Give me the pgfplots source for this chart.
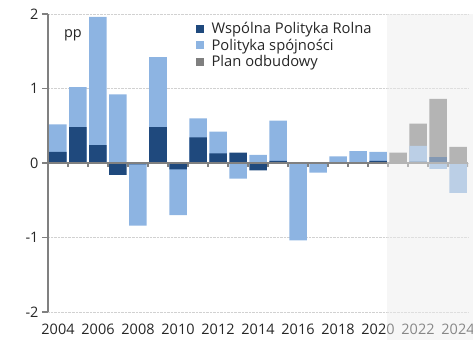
\documentclass[border=0pt]{standalone}
\usepackage{pgfplots}
\usepackage{pgfplotstable}
\pgfplotsset{compat=1.18}
\usepackage{fontspec}
\setmainfont{Open Sans}
\definecolor{dblue}{HTML}{1F497D}
\definecolor{lblue}{HTML}{8DB4E2}
\definecolor{pgray}{HTML}{7F7F7F}
\definecolor{txt}{HTML}{262626}
\definecolor{axgray}{HTML}{808080}
\definecolor{shadecol}{HTML}{ECECEC}

% idx = year - 2004
\pgfplotstableread{
idx darkpos lightpos graypos darkneg lightneg
0 0.15 0.52 0 0 0
1 0.48 1.02 0 0 0
2 0.24 1.96 0 0 0
3 0 0.92 0 -0.16 0
4 0 0 0 -0.02 -0.84
5 0.48 1.42 0 0 0
6 0 0 0 -0.085 -0.70
7 0.345 0.60 0 0 0
8 0.13 0.42 0 0 0
9 0.14 0 0 0 -0.21
10 0 0.11 0 -0.10 0
11 0.03 0.57 0 0 0
12 0 0 0 -0.01 -1.04
13 0 0 0 0 -0.13
14 0 0.09 0 0 0
15 0.01 0.16 0 0 0
16 0.03 0.15 0 0 0
17 0 0 0.14 0 0
18 0.02 0.23 0.53 0 0
19 0.08 0.08 0.86 0 -0.08
20 0 0 0.215 0 -0.40
}\data

\begin{document}
\begin{tikzpicture}
\begin{axis}[
 at={(0,0)}, anchor=south west,
 scale only axis, width=420bp, height=298bp,
 xmin=-0.5, xmax=20.5, ymin=-2, ymax=2,
 axis x line*=bottom, axis y line*=left,
 x axis line style={draw=none},
 y axis line style={-, draw=axgray, line width=1.3bp},
 xtick={0,2,4,6,8,10,12,14,16,18,20},
 xticklabels={2004,2006,2008,2010,2012,2014,2016,2018,2020,2022,2024},
 ytick={-2,-1,0,1,2},
 yticklabels={-2,-1,0,1,2},
 xtick style={draw=none},
 ytick style={draw=axgray, line width=1.2bp},
 tick align=outside, major tick length=6bp,
 ymajorgrids, grid style={densely dotted, color=black!18, line width=0.6bp},
 tick label style={font=\fontsize{14.5}{16}\selectfont, text=txt},
 xticklabel style={yshift=-3bp},
 ybar, bar width=17.5bp, bar shift=0pt,
 legend image code/.code={\fill[#1] (0bp,-4bp) rectangle (8bp,4bp);},
 legend style={at={(0.345,0.985)}, anchor=north west, draw=none, fill=none,
   font=\fontsize{14.8}{16}\selectfont, text=txt, row sep=-0.5bp,
   nodes={inner xsep=7.5bp}},
 legend cell align=left,
]
\addplot[fill=pgray, draw=none, forget plot] table[x=idx, y=graypos] {\data};
\addplot[fill=lblue, draw=none, forget plot] table[x=idx, y=lightpos] {\data};
\addplot[fill=dblue, draw=none, forget plot] table[x=idx, y=darkpos] {\data};
\addplot[fill=lblue, draw=none, forget plot] table[x=idx, y=lightneg] {\data};
\addplot[fill=dblue, draw=none, forget plot] table[x=idx, y=darkneg] {\data};
\addlegendimage{fill=dblue, draw=none}
\addlegendentry{Wspólna Polityka Rolna}
\addlegendimage{fill=lblue, draw=none}
\addlegendentry{Polityka spójności}
\addlegendimage{fill=pgray, draw=none}
\addlegendentry{Plan odbudowy}
\draw[axgray, line width=1.3bp] (axis cs:-0.5,0) -- (axis cs:20.5,0);
\pgfplotsinvokeforeach{-0.5,0.5,1.5,2.5,3.5,4.5,5.5,6.5,7.5,8.5,9.5,10.5,11.5,12.5,13.5,14.5,15.5,16.5,17.5,18.5,19.5,20.5}{
 \draw[axgray, line width=1.1bp] (axis cs:#1,0) -- ([yshift=-4.5bp]axis cs:#1,0);
}
\node[anchor=west, font=\fontsize{14.5}{16}\selectfont, text=txt] at (rel axis cs:0.03,0.93) {pp};
\coordinate (sh) at (axis cs:16.45,2);
\end{axis}
\fill[shadecol, opacity=0.49] (sh) rectangle (425bp,-28bp);
\pgfresetboundingbox
\useasboundingbox (-48bp,-28bp) rectangle (425bp,312bp);
\end{tikzpicture}
\end{document}
